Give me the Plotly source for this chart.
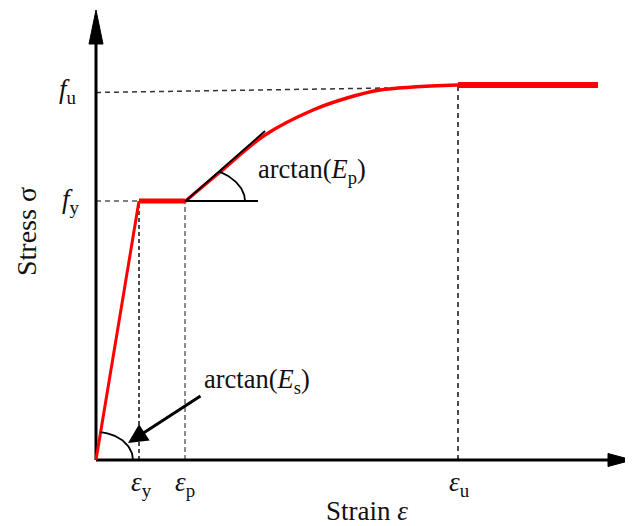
import numpy as np
import plotly.graph_objects as go

# ---- data (arbitrary units: strain on x, stress on y) ----
eps_y = 43
eps_p = 89
eps_u = 362
eps_end = 502
f_y = 259
f_u = 367.5
f_u_plateau = 375
# hardening curve between eps_p and eps_u
hard_strain = [89, 124, 169, 217, 251, 284, 317, 362]
hard_stress = [258.5, 288, 325, 350, 362, 370, 373, 375]
# tangent at start of hardening
tan_strain = [89, 169]
tan_stress = [258.5, 329]
# fu guide line end
fu_guide_end = 292
fu_guide_end_stress = 372

X_AXIS_END = 536
Y_AXIS_END = 450

fig = go.Figure()
FONT = "Liberation Serif"

def line(x, y, color="black", width=2, dash=None, shape="linear"):
    fig.add_trace(go.Scatter(x=x, y=y, mode="lines", hoverinfo="skip",
                             line=dict(color=color, width=width, dash=dash, shape=shape),
                             showlegend=False))

# guide dashed lines
line([0, eps_y], [f_y, f_y], color="#555555", width=1.5, dash="5px,4px")
line([eps_y, eps_y], [0, f_y], color="#111111", width=1.5, dash="4px,3px")
line([eps_p, eps_p], [0, f_y], color="#666666", width=1.5, dash="5px,3px")
line([eps_u, eps_u], [0, f_u_plateau], color="#111111", width=1.5, dash="5px,4px")
line([0, fu_guide_end], [f_u, fu_guide_end_stress], color="#333333", width=1.5, dash="5px,4px")

# axes
line([0, 0], [0, Y_AXIS_END - 32], width=3)
line([0, X_AXIS_END - 22], [0, 0], width=3)
fig.add_shape(type="path", path=f"M -7 {Y_AXIS_END-34} L 0 {Y_AXIS_END} L 7 {Y_AXIS_END-34} Z",
              fillcolor="black", line=dict(color="black", width=1))
fig.add_shape(type="path", path=f"M {X_AXIS_END-24} 6.5 L {X_AXIS_END} 0 L {X_AXIS_END-24} -6.5 Z",
              fillcolor="black", line=dict(color="black", width=1))

# red stress-strain curve
line([0, eps_y], [0, f_y], color="red", width=3)
line([eps_y, eps_p], [f_y, f_y], color="red", width=5)
line(hard_strain, hard_stress, color="red", width=3.5, shape="spline")
line([eps_u, eps_end], [f_u_plateau, f_u_plateau], color="red", width=6)

# tangent and horizontal reference
line(tan_strain, tan_stress, color="black", width=1.8)
line([eps_p, eps_p + 73], [f_y, f_y], color="black", width=1.8)

# angle arcs (ellipse arcs)
t = np.linspace(0, np.arctan(0.87 * 60 / 36), 40)
line(eps_p + 60 * np.cos(t), f_y + 36 * np.sin(t), color="black", width=1.8)
t2 = np.linspace(0, np.arctan((f_y / eps_y) * 37 / 28), 40)
line(37 * np.cos(t2), 28 * np.sin(t2), color="black", width=1.8)

# arrow to Es arc
fig.add_annotation(x=32, y=17, ax=74, ay=-48, xref="x", yref="y", axref="pixel", ayref="pixel",
                   text="", showarrow=True, arrowhead=2, arrowsize=1.3, arrowwidth=3,
                   arrowcolor="black", standoff=0)

def text(x, y, s, size=26.5, xanchor="center", yanchor="middle", angle=0):
    fig.add_annotation(x=x, y=y, xref="x", yref="y", text=s, showarrow=False,
                       xanchor=xanchor, yanchor=yanchor, textangle=angle,
                       font=dict(family=FONT, size=size, color="#111111"))

text(160, 289, "arctan(<i>E</i><sub>p</sub>)", xanchor="left")
text(106, 79, "arctan(<i>E</i><sub>s</sub>)", xanchor="left")
text(-28, 369, "<i>f</i><sub>u</sub>", size=27)
text(-25, 259, "<i>f</i><sub>y</sub>", size=27)
text(eps_y + 2, -24, "<i>ε</i><sub>y</sub>", size=27)
text(eps_p + 0, -24, "<i>ε</i><sub>p</sub>", size=27)
text(eps_u + 1, -24, "<i>ε</i><sub>u</sub>", size=27)
text(271, -51, "Strain <i>ε</i>", size=27)
text(-70, 228, "Stress σ", size=28, angle=-90)

# page body has an 8px margin: figure is 625x518, placed at (8, 8)
fig.update_layout(width=625, height=518, autosize=False,
                  margin=dict(l=0, r=0, t=0, b=0),
                  paper_bgcolor="white", plot_bgcolor="white",
                  xaxis=dict(range=[-88, 537], visible=False, fixedrange=True),
                  yaxis=dict(range=[-66, 452], visible=False, fixedrange=True))

fig.write_html("out.html")
